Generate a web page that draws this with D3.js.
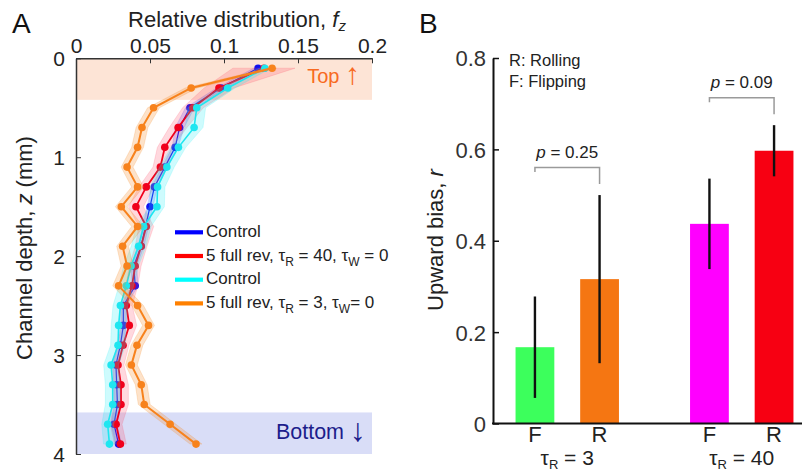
<!DOCTYPE html>
<html>
<head>
<meta charset="utf-8">
<script src="https://cdn.jsdelivr.net/npm/d3@7"></script>
<style>
  body { margin: 0; background: #fff; }
  svg { display: block; font-family: "Liberation Sans", Arial, Helvetica, sans-serif; }
</style>
</head>
<body>
<svg id="fig" width="802" height="470"></svg>
<script>
// ---- Panel A: relative distribution across channel depth ----
const depths = [0.1, 0.3, 0.5, 0.7, 0.9, 1.1, 1.3, 1.5, 1.7, 1.9,
                2.1, 2.3, 2.5, 2.7, 2.9, 3.1, 3.3, 3.5, 3.7, 3.9];

const controlBlue = [0.123, 0.098, 0.077, 0.070, 0.067, 0.060, 0.053, 0.050, 0.047, 0.044,
                     0.039, 0.040, 0.032, 0.032, 0.030, 0.027, 0.0275, 0.028, 0.0257, 0.0288];
const rev40 = [0.127, 0.0966, 0.079, 0.069, 0.060, 0.057, 0.0475, 0.0405, 0.0475, 0.044,
               0.040, 0.0378, 0.034, 0.036, 0.0318, 0.0284, 0.0304, 0.0304, 0.0271, 0.030];
const controlCyan = [0.1276, 0.1025, 0.0816, 0.0798, 0.0692, 0.0614, 0.0551, 0.0547, 0.0457, 0.0423,
                     0.0372, 0.034, 0.030, 0.0288, 0.0284, 0.0237, 0.0248, 0.0248, 0.0214, 0.0226];
const rev3 = [0.1325, 0.0778, 0.0524, 0.0446, 0.0416, 0.0345, 0.0416, 0.0306, 0.0416, 0.0315,
              0.0345, 0.0288, 0.0416, 0.049, 0.0412, 0.0374, 0.0441, 0.0461, 0.0636, 0.0811];

const sdControlBlue = [0.003, 0.003, 0.003, 0.003, 0.002, 0.002, 0.002, 0.002, 0.002, 0.002,
                       0.002, 0.002, 0.002, 0.002, 0.002, 0.002, 0.002, 0.002, 0.002, 0.002];
const sdRev40 = [0.021, 0.010, 0.007, 0.006, 0.005, 0.005, 0.005, 0.005, 0.005, 0.004,
                 0.004, 0.004, 0.004, 0.005, 0.004, 0.004, 0.005, 0.005, 0.004, 0.004];
const sdControlCyan = [0.004, 0.005, 0.006, 0.006, 0.005, 0.005, 0.005, 0.005, 0.005, 0.005,
                       0.005, 0.005, 0.005, 0.005, 0.005, 0.005, 0.005, 0.005, 0.004, 0.004];
const sdRev3 = [0.003, 0.004, 0.004, 0.004, 0.004, 0.004, 0.004, 0.004, 0.004, 0.004,
                0.004, 0.004, 0.004, 0.004, 0.004, 0.004, 0.004, 0.004, 0.004, 0.004];

const distTicks = [0, 0.05, 0.1, 0.15, 0.2];
const distTickLabels = ["0", "0.05", "0.1", "0.15", "0.2"];
const depthTicks = [0, 1, 2, 3, 4];
const depthTickLabels = ["0", "1", "2", "3", "4"];
const topZone = [0, 0.42];
const bottomZone = [3.58, 4];

// ---- Panel B: upward bias ----
const tauGroups = ["3", "40"];
const modes = ["F", "R"];
const biasValues = [0.167, 0.316, 0.437, 0.597];   // F3, R3, F40, R40
const biasErrors = [0.111, 0.184, 0.099, 0.056];
const biasTicks = [0, 0.2, 0.4, 0.6, 0.8];
const biasTickLabels = ["0", "0.2", "0.4", "0.6", "0.8"];
const pValues = ["0.25", "0.09"];

const ink = "#222";
const svg = d3.select("#fig");

// ================= Panel A =================
const xA = d3.scaleLinear().domain([0, 0.2]).range([76, 372]);
const yA = d3.scaleLinear().domain([0, 4]).range([58.3, 454]);
const gA = svg.append("g");

// shaded top / bottom zones
gA.append("rect")
  .attr("x", xA(0)).attr("y", yA(topZone[0]))
  .attr("width", xA(0.2) - xA(0)).attr("height", yA(topZone[1]) - yA(topZone[0]))
  .attr("fill", "#fde4d6");
gA.append("rect")
  .attr("x", xA(0)).attr("y", yA(bottomZone[0]))
  .attr("width", xA(0.2) - xA(0)).attr("height", yA(bottomZone[1]) - yA(bottomZone[0]))
  .attr("fill", "#d9ddf7");

const topLabel = gA.append("text").attr("x", 360).attr("y", 82.7)
  .attr("text-anchor", "end").attr("font-size", 20).attr("fill", "#f86a22");
topLabel.append("tspan").text("Top ");
topLabel.append("tspan").attr("font-size", 30).attr("dy", 1.5).text("\u2191");
const bottomLabel = gA.append("text").attr("x", 366).attr("y", 439.3)
  .attr("text-anchor", "end").attr("font-size", 21.5).attr("fill", "#1d1d8c");
bottomLabel.append("tspan").text("Bottom ");
bottomLabel.append("tspan").attr("font-size", 32).attr("dy", 2).text("\u2193");

const series = [
  { values: controlBlue, sd: sdControlBlue, color: "#1010f0", band: "rgba(40,40,255,0.18)", lw: 1.2 },
  { values: rev40, sd: sdRev40, color: "#f0001c", band: "rgba(255,60,90,0.2)", lw: 1.8 },
  { values: controlCyan, sd: sdControlCyan, color: "#1ee6f0", band: "rgba(30,235,245,0.22)", lw: 1.6 },
  { values: rev3, sd: sdRev3, color: "#f7821c", band: "rgba(247,140,40,0.25)", lw: 2 }
];

series.forEach(s => {
  const pts = depths.map((z, i) => ({ z, v: s.values[i], e: s.sd[i] }));
  const area = d3.area().curve(d3.curveLinear)
    .y(d => yA(d.z)).x0(d => xA(d.v - d.e)).x1(d => xA(d.v + d.e));
  gA.append("path").datum(pts).attr("d", area)
    .attr("fill", s.band).attr("stroke", s.band).attr("stroke-width", 0.8);
  gA.append("path").datum(pts)
    .attr("d", d3.line().x(d => xA(d.v)).y(d => yA(d.z)))
    .attr("fill", "none").attr("stroke", s.color).attr("stroke-width", s.lw);
  gA.selectAll(null).data(pts).join("circle")
    .attr("cx", d => xA(d.v)).attr("cy", d => yA(d.z)).attr("r", 3.8)
    .attr("fill", s.color);
});

// axes (top and left, ticks pointing inward)
const axTop = gA.append("g").attr("transform", `translate(0,${yA(0)})`)
  .call(d3.axisTop(xA).tickValues(distTicks)
    .tickFormat((d, i) => distTickLabels[i]).tickSize(-5).tickSizeOuter(0).tickPadding(5.5));
const axLeft = gA.append("g").attr("transform", `translate(${xA(0)},0)`)
  .call(d3.axisLeft(yA).tickValues(depthTicks)
    .tickFormat((d, i) => depthTickLabels[i]).tickSize(-5).tickSizeOuter(0).tickPadding(11));
[axTop, axLeft].forEach(ax => {
  ax.select(".domain").attr("stroke", "#333").attr("stroke-width", 1.5);
  ax.selectAll(".tick line").attr("stroke", "#333").attr("stroke-width", 1);
  ax.selectAll(".tick text").attr("fill", ink).attr("font-size", 21)
    .attr("font-family", "Liberation Sans, Arial, sans-serif");
});
axLeft.selectAll(".tick text").attr("dy", "0.36em");

// axis titles
const tA = gA.append("text").attr("x", 237).attr("y", 26.5)
  .attr("text-anchor", "middle").attr("font-size", 22).attr("fill", ink);
tA.append("tspan").text("Relative distribution, ");
tA.append("tspan").attr("font-style", "italic").text("f");
tA.append("tspan").attr("font-style", "italic").attr("font-size", 15).attr("dy", 4).text("z");

const yTitleA = gA.append("text")
  .attr("transform", "translate(32,248) rotate(-90)")
  .attr("text-anchor", "middle").attr("font-size", 22).attr("fill", ink);
yTitleA.append("tspan").text("Channel depth, ");
yTitleA.append("tspan").attr("font-style", "italic").text("z");
yTitleA.append("tspan").text(" (mm)");

// legend
const legendItems = [
  { color: "#0000ff", parts: [["Control"]] },
  { color: "#ff0000", parts: [["5 full rev, \u03C4"], ["R", "sub"], [" = 40, \u03C4"], ["W", "sub"], [" = 0"]] },
  { color: "#00ffff", parts: [["Control"]] },
  { color: "#ff8000", parts: [["5 full rev, \u03C4"], ["R", "sub"], [" = 3, \u03C4"], ["W", "sub"], ["= 0"]] }
];
const legY = d3.scaleLinear().domain([0, 3]).range([232.3, 303.4]);
legendItems.forEach((it, i) => {
  const y = legY(i);
  gA.append("line").attr("x1", 175).attr("x2", 203).attr("y1", y).attr("y2", y)
    .attr("stroke", it.color).attr("stroke-width", 4.2);
  const t = gA.append("text").attr("x", 206).attr("y", y + 4.6)
    .attr("font-size", 17).attr("fill", ink);
  let shifted = false;
  it.parts.forEach(([str, kind]) => {
    const sp = t.append("tspan").text(str);
    if (kind === "sub") { sp.attr("font-size", 12).attr("dy", 5); shifted = true; }
    else if (shifted) { sp.attr("dy", -5); shifted = false; }
  });
});

svg.append("text").attr("x", 12).attr("y", 33).attr("font-size", 28).attr("fill", "#111").text("A");

// ================= Panel B =================
const yB = d3.scaleLinear().domain([0, 0.8]).range([423.5, 58]);
const xGroup = d3.scaleBand().domain(tauGroups).range([480, 829]);
const xMode = d3.scaleBand().domain(modes).range([0, xGroup.bandwidth()])
  .paddingInner(0.4).paddingOuter(0.55);
const barColors = ["#3cff5c", "#f57612", "#ff00ff", "#f70012"];

const bars = [];
tauGroups.forEach((g, gi) => modes.forEach((m, mi) => {
  const k = gi * modes.length + mi;
  bars.push({ g, m, v: biasValues[k], e: biasErrors[k], color: barColors[k] });
}));
const cx = d => xGroup(d.g) + xMode(d.m) + xMode.bandwidth() / 2;

const gB = svg.append("g");
gB.selectAll(null).data(bars).join("rect")
  .attr("x", d => xGroup(d.g) + xMode(d.m)).attr("width", xMode.bandwidth())
  .attr("y", d => yB(d.v)).attr("height", d => yB(0) - yB(d.v))
  .attr("fill", d => d.color);
gB.selectAll(null).data(bars).join("line")
  .attr("x1", cx).attr("x2", cx)
  .attr("y1", d => yB(d.v - d.e)).attr("y2", d => yB(d.v + d.e))
  .attr("stroke", "#111").attr("stroke-width", 2.4);

// significance brackets
tauGroups.forEach((g, gi) => {
  const pair = bars.filter(b => b.g === g);
  const top = yB(d3.max(pair, b => b.v + b.e));
  const xl = cx(pair[0]), xr = cx(pair[1]);
  const yr = top - 11, yh = yr - 16.5, yl = yh + 4.5;
  gB.append("path")
    .attr("d", `M${xl},${yl}V${yh}H${xr}V${yr}`)
    .attr("fill", "none").attr("stroke", "#9a9a9a").attr("stroke-width", 1.5);
  const t = gB.append("text").attr("x", (xl + xr) / 2).attr("y", yh - 9.7)
    .attr("text-anchor", "middle").attr("font-size", 17).attr("fill", ink);
  t.append("tspan").attr("font-style", "italic").text("p");
  t.append("tspan").text(" = " + pValues[gi]);
});

// axes
const axB = gB.append("g").attr("transform", `translate(493,0)`)
  .call(d3.axisLeft(yB).tickValues(biasTicks).tickFormat((d, i) => biasTickLabels[i])
    .tickSize(-6).tickSizeOuter(0).tickPadding(7));
axB.select(".domain").attr("stroke", "#111").attr("stroke-width", 2);
axB.selectAll(".tick line").attr("stroke", "#111").attr("stroke-width", 1.5);
axB.selectAll(".tick text").attr("fill", "#333").attr("font-size", 22).attr("dy", "0.36em")
  .attr("font-family", "Liberation Sans, Arial, sans-serif");
gB.append("line").attr("x1", 492).attr("x2", 802).attr("y1", yB(0)).attr("y2", yB(0))
  .attr("stroke", "#111").attr("stroke-width", 2);

// category labels
gB.selectAll(null).data(bars).join("text")
  .attr("x", cx).attr("y", 441.5).attr("text-anchor", "middle")
  .attr("font-size", 22).attr("fill", ink).text(d => d.m);
tauGroups.forEach(g => {
  const t = gB.append("text").attr("x", xGroup(g) + xGroup.bandwidth() / 2).attr("y", 465)
    .attr("text-anchor", "middle").attr("font-size", 21).attr("fill", ink);
  t.append("tspan").text("\u03C4");
  t.append("tspan").attr("font-size", 13).attr("dy", 3.5).text("R");
  t.append("tspan").attr("dy", -3.5).text(" = " + g);
});

// axis title
const yTitleB = gB.append("text").attr("transform", "translate(443,240) rotate(-90)")
  .attr("text-anchor", "middle").attr("font-size", 22).attr("fill", ink);
yTitleB.append("tspan").text("Upward bias, ");
yTitleB.append("tspan").attr("font-style", "italic").text("r");

// key
gB.append("text").attr("x", 509).attr("y", 66).attr("font-size", 16.5).attr("fill", ink).text("R: Rolling");
gB.append("text").attr("x", 509).attr("y", 86.5).attr("font-size", 16.5).attr("fill", ink).text("F: Flipping");

svg.append("text").attr("x", 419).attr("y", 33).attr("font-size", 28).attr("fill", "#111").text("B");
</script>
</body>
</html>
